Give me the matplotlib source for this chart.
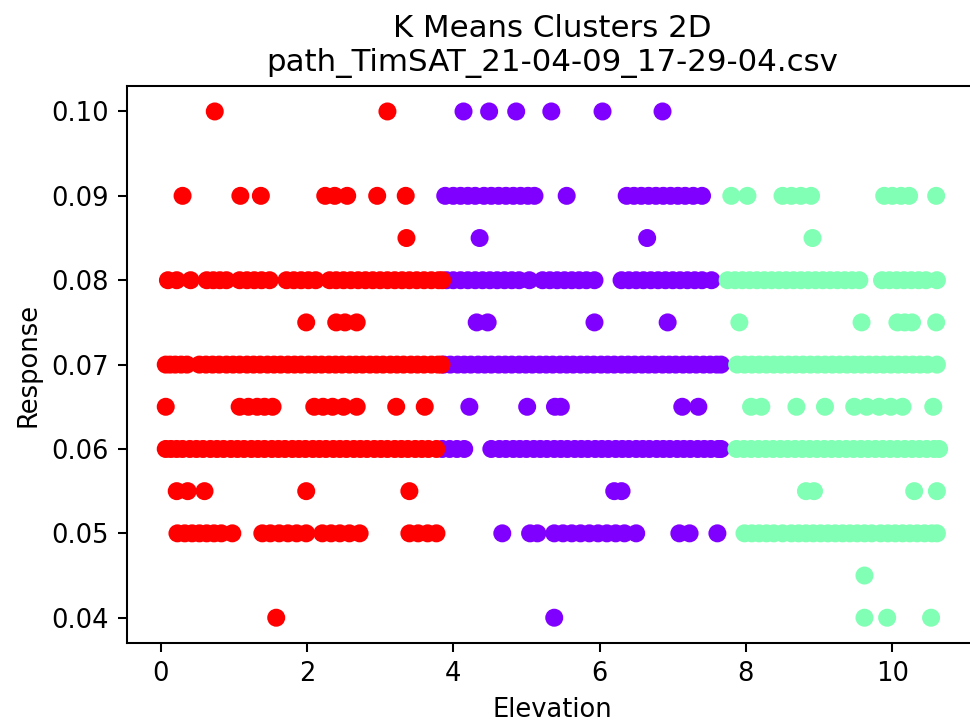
import matplotlib
matplotlib.use("Agg")
import matplotlib.pyplot as plt
import numpy as np

# Elevation values of each cluster, grouped by response level
red_points = {
    0.10: [0.74, 3.10],
    0.09: [0.30, 1.09, 1.37, 2.25, 2.38, 2.55, 2.96, 3.35],
    0.085: [3.36],
    0.08: [0.10, 0.22, 0.41, 0.63, 0.72, 0.81, 0.90, 1.08, 1.18, 1.28, 1.38, 1.49,
           1.72, 1.82, 1.92, 2.02, 2.12, 2.31, 2.40, 2.50, 2.60, 2.70, 2.80, 2.90,
           3.00, 3.10, 3.20, 3.30, 3.40, 3.50, 3.60, 3.70, 3.80, 3.85],
    0.075: [1.99, 2.40, 2.52, 2.68],
    0.07: [0.07, 0.13, 0.20, 0.28, 0.36, 0.53, 0.62, 0.71, 0.80, 0.90, 0.99, 1.08,
           1.18, 1.27, 1.36, 1.46, 1.55, 1.64, 1.74, 1.83, 1.92, 2.02, 2.11, 2.20,
           2.30, 2.39, 2.48, 2.58, 2.67, 2.76, 2.86, 2.95, 3.04, 3.14, 3.23, 3.32,
           3.42, 3.51, 3.60, 3.70, 3.79, 3.84],
    0.065: [0.07, 1.08, 1.20, 1.32, 1.42, 1.53, 2.10, 2.22, 2.35, 2.50, 2.68, 3.22, 3.61],
    0.06: [0.07, 0.14, 0.22, 0.30, 0.40, 0.49, 0.58, 0.68, 0.77, 0.86, 0.96, 1.05,
           1.14, 1.24, 1.33, 1.42, 1.52, 1.61, 1.70, 1.80, 1.89, 1.98, 2.08, 2.17,
           2.26, 2.36, 2.45, 2.54, 2.64, 2.73, 2.82, 2.92, 3.01, 3.10, 3.20, 3.29,
           3.38, 3.48, 3.57, 3.66, 3.77],
    0.055: [0.22, 0.37, 0.60, 1.99, 3.40],
    0.05: [0.23, 0.33, 0.43, 0.53, 0.63, 0.73, 0.83, 0.98, 1.39, 1.50, 1.62, 1.74,
           1.86, 1.99, 2.21, 2.33, 2.45, 2.58, 2.72, 3.40, 3.52, 3.65, 3.77],
    0.04: [1.58],
}

purple_points = {
    0.10: [4.14, 4.49, 4.86, 5.34, 6.04, 6.86],
    0.09: [3.89, 4.00, 4.10, 4.20, 4.30, 4.42, 4.52, 4.62, 4.72, 4.82, 4.92, 5.02,
           5.11, 5.55, 6.37, 6.47, 6.57, 6.67, 6.77, 6.87, 6.97, 7.07, 7.17, 7.28, 7.40],
    0.085: [4.36, 6.65],
    0.08: [3.91, 4.00, 4.10, 4.20, 4.30, 4.40, 4.50, 4.60, 4.70, 4.80, 4.90, 5.04,
           5.22, 5.32, 5.42, 5.52, 5.62, 5.72, 5.82, 5.93, 6.30, 6.40, 6.50, 6.60,
           6.70, 6.80, 6.90, 7.00, 7.10, 7.20, 7.30, 7.40, 7.53],
    0.075: [4.32, 4.47, 5.93, 6.93],
    0.07: [3.87, 3.96, 4.06, 4.15, 4.24, 4.34, 4.43, 4.52, 4.62, 4.71, 4.80, 4.90,
           4.99, 5.08, 5.18, 5.27, 5.36, 5.46, 5.55, 5.64, 5.74, 5.83, 5.92, 6.02,
           6.11, 6.20, 6.30, 6.39, 6.48, 6.58, 6.67, 6.76, 6.86, 6.95, 7.04, 7.14,
           7.23, 7.32, 7.42, 7.51, 7.60, 7.66],
    0.065: [4.22, 5.01, 5.39, 5.47, 7.13, 7.35],
    0.06: [3.85, 3.95, 4.05, 4.15, 4.52, 4.63, 4.72, 4.82, 4.91, 5.00, 5.10, 5.19,
           5.28, 5.38, 5.47, 5.56, 5.66, 5.75, 5.84, 5.94, 6.03, 6.12, 6.22, 6.31,
           6.40, 6.50, 6.59, 6.68, 6.78, 6.87, 6.96, 7.06, 7.15, 7.24, 7.34, 7.43,
           7.52, 7.62, 7.66],
    0.055: [6.20, 6.30],
    0.05: [4.67, 5.05, 5.15, 5.38, 5.50, 5.62, 5.74, 5.86, 5.98, 6.10, 6.22, 6.34,
           6.50, 7.09, 7.23, 7.61],
    0.04: [5.38],
}

green_points = {
    0.09: [7.80, 8.02, 8.50, 8.62, 8.75, 8.89, 9.89, 10.00, 10.12, 10.23, 10.60],
    0.085: [8.91],
    0.08: [7.75, 7.85, 7.95, 8.05, 8.15, 8.25, 8.35, 8.45, 8.55, 8.65, 8.75, 8.85,
           8.95, 9.05, 9.15, 9.25, 9.35, 9.45, 9.55, 9.86, 9.96, 10.06, 10.16, 10.26,
           10.36, 10.46, 10.61],
    0.075: [7.91, 9.58, 10.07, 10.17, 10.27, 10.60],
    0.07: [7.88, 7.98, 8.08, 8.18, 8.28, 8.38, 8.48, 8.58, 8.68, 8.78, 8.88, 8.98,
           9.08, 9.18, 9.28, 9.38, 9.48, 9.58, 9.68, 9.78, 9.88, 9.98, 10.08, 10.18,
           10.28, 10.38, 10.48, 10.61],
    0.065: [8.07, 8.21, 8.69, 9.08, 9.48, 9.65, 9.82, 9.98, 10.14, 10.56],
    0.06: [7.87, 7.97, 8.07, 8.17, 8.27, 8.37, 8.47, 8.57, 8.67, 8.77, 8.87, 8.97,
           9.07, 9.17, 9.27, 9.37, 9.47, 9.57, 9.67, 9.77, 9.87, 9.97, 10.07, 10.17,
           10.27, 10.37, 10.47, 10.57, 10.64],
    0.055: [8.82, 8.93, 10.30, 10.61],
    0.05: [7.98, 8.08, 8.18, 8.28, 8.38, 8.50, 8.62, 8.72, 8.82, 8.92, 9.02, 9.12,
           9.22, 9.32, 9.42, 9.52, 9.62, 9.72, 9.84, 9.94, 10.04, 10.14, 10.24, 10.34,
           10.44, 10.54, 10.61],
    0.045: [9.62],
    0.04: [9.62, 9.93, 10.53],
}

# KMeans label of each cluster (coloured through the rainbow colormap)
cluster_labels = {"purple": 0, "green": 1, "red": 2}
clusters = [("purple", purple_points), ("green", green_points), ("red", red_points)]

xs, ys, labels = [], [], []
for name, pts in clusters:
    for resp, elevs in pts.items():
        for e in elevs:
            xs.append(e)
            ys.append(resp)
            labels.append(cluster_labels[name])

DPI = 185
fig = plt.figure(figsize=(970 / DPI, 727 / DPI), dpi=DPI)
ax = fig.add_axes([0.131, 0.1155, 0.877, 0.766])
ax.scatter(xs, ys, c=labels, cmap="rainbow", vmin=0, vmax=2)

ax.set_title("K Means Clusters 2D\npath_TimSAT_21-04-09_17-29-04.csv")
ax.set_xlabel("Elevation")
ax.set_ylabel("Response")

fig.savefig("out.png", dpi=DPI)
